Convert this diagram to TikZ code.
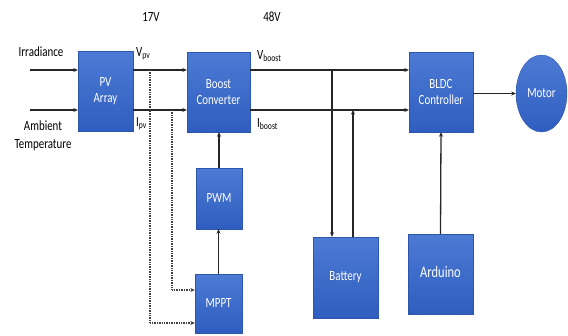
\documentclass[tikz,border=0pt]{standalone}
\usepackage{fontspec}
\setmainfont{Carlito}[FakeStretch=0.78]
\usetikzlibrary{arrows.meta,shapes.geometric}
\definecolor{boxtop}{RGB}{76,122,212}
\definecolor{boxbot}{RGB}{48,94,192}
\definecolor{boxedge}{RGB}{45,85,170}
\tikzset{
  blk/.style={rectangle, draw=boxedge, line width=0.4pt, top color=boxtop, bottom color=boxbot,
    text=white, align=center, font=\fontsize{14}{16.5}\selectfont, inner sep=0pt},
  lbl/.style={font=\fontsize{14}{17.5}\selectfont, text=black, align=center, inner sep=0pt},
  arr/.style={-{Stealth[length=4.5pt,width=4pt]}, line width=1.3pt, black!85},
  dotarr/.style={-{Stealth[length=4.5pt,width=4pt]}, line width=1.5pt, black!75, dash pattern=on 0.9pt off 0.8pt},
}
\begin{document}
\begin{tikzpicture}[x=1pt,y=-1pt]
\useasboundingbox (0,0) rectangle (568,335);
% blocks
\node[blk, minimum width=55pt, minimum height=80pt] (pv) at (105.5,91) {PV\\Array};
\node[blk, minimum width=63pt, minimum height=80pt] (boost) at (218.5,92) {Boost\\Converter};
\node[blk, minimum width=46pt, minimum height=61pt] (pwm) at (219,198.5) {PWM};
\node[blk, minimum width=47pt, minimum height=59pt] (mppt) at (218.5,303.5) {MPPT};
\node[blk, minimum width=65pt, minimum height=81pt] (bat) at (345.5,277.5) {\raisebox{-6pt}{Battery}};
\node[blk, minimum width=65pt, minimum height=80pt] (ard) at (440.5,274) {\raisebox{5pt}{\fontsize{16}{17}\selectfont Arduino}};
\node[blk, minimum width=64pt, minimum height=80pt] (bldc) at (441,92) {BLDC\\Controller};
\node[ellipse, draw=boxedge, line width=0.4pt, top color=boxtop, bottom color=boxbot, text=white,
  font=\fontsize{14}{16}\selectfont, minimum width=51pt, minimum height=77pt, inner sep=0pt] (motor) at (541.5,93.5) {Motor};
% labels
\node[lbl] (irr) at (41,52) {Irradiance};
\node[lbl] (amb) at (43,136) {Ambient\\Temperature};
\node[lbl] (v17) at (151,17) {17V};
\node[lbl] (v48) at (272,17) {48V};
\node[lbl, anchor=west] (vpv) at (136,54) {V\textsubscript{pv}};
\node[lbl, anchor=west] (ipv) at (136,124) {I\textsubscript{pv}};
\node[lbl, anchor=west] (vb) at (257,56) {V\textsubscript{boost}};
\node[lbl, anchor=west] (ib) at (257,124) {I\textsubscript{boost}};
% helper coordinates
\coordinate (yv) at (0,70);
\coordinate (yi) at (0,110);
\coordinate (irrs) at (30,70);
\coordinate (ambs) at (30,110);
\coordinate (tapv) at (150,70);
\coordinate (tapi) at (172,110);
\coordinate (batd) at (332,70);
\coordinate (batu) at (353,110);
\coordinate (d1) at (150,323);
\coordinate (d2) at (172,290);
% input arrows
\draw[arr] (irrs) -- (pv.west |- irrs);
\draw[arr] (ambs) -- (pv.west |- ambs);
% pv -> boost
\draw[arr] (pv.east |- yv) -- (boost.west |- yv);
\draw[arr] (pv.east |- yi) -- (boost.west |- yi);
% boost -> bldc
\draw[arr] (boost.east |- yv) -- (bldc.west |- yv);
\draw[arr] (boost.east |- yi) -- (bldc.west |- yi);
% battery
\draw[arr] (batd) -- (batd |- bat.north);
\draw[arr] (batu |- bat.north) -- (batu);
% arduino
\draw[arr] (ard.north) -- (bldc.south);
% bldc -> motor
\draw[arr] (bldc.east |- motor.west) -- (motor.west);
% pwm, mppt
\draw[arr] (pwm.north) -- (pwm.north |- boost.south);
\draw[arr] (mppt.north) -- (mppt.north |- pwm.south);
% dotted feedback
\draw[dotarr] (tapv) -- (d1) -- (mppt.west |- d1);
\draw[dotarr] (tapi) -- (d2) -- (mppt.west |- d2);
\end{tikzpicture}
\end{document}
